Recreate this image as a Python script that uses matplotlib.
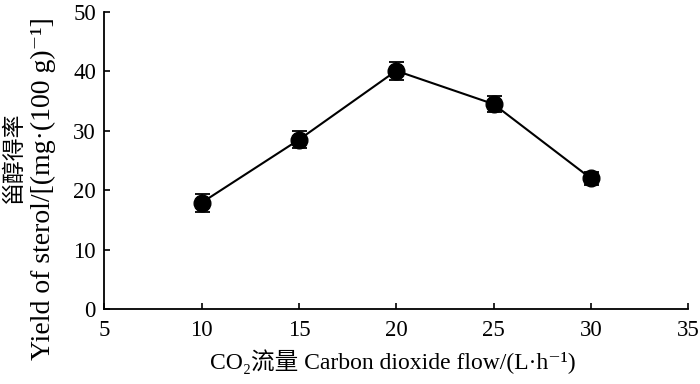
import matplotlib
matplotlib.use("Agg")
import matplotlib.pyplot as plt

# CO2 flow vs sterol yield
flow = [10, 15, 20, 25, 30]
yield_sterol = [17.9, 28.5, 40.1, 34.5, 22.0]
err = [1.5, 1.4, 1.5, 1.4, 1.1]

xticks = [5, 10, 15, 20, 25, 30, 35]
yticks = [0, 10, 20, 30, 40, 50]

plt.rcParams['font.family'] = ['Liberation Serif', 'Noto Sans CJK SC', 'DejaVu Serif']

fig = plt.figure(figsize=(7, 3.84), dpi=100)
ax = fig.add_axes([0.149, 0.195, 0.834, 0.774])

ax.errorbar(flow, yield_sterol, yerr=err, color='black', marker='o', markersize=12,
            linewidth=1.5, elinewidth=1.3, capsize=5.4, capthick=1.3)

ax.set_xlim(5, 35)
ax.set_ylim(0, 50)
ax.set_xticks(xticks)
ax.set_yticks(yticks)
ax.spines['top'].set_visible(False)
ax.spines['right'].set_visible(False)
ax.spines['left'].set_linewidth(1.3)
ax.spines['bottom'].set_linewidth(1.3)
ax.tick_params(direction='in', length=4, width=1.2, labelsize=16.5)
ax.tick_params(axis='y', pad=6)
ax.tick_params(axis='x', pad=8)

# axis titles (two sizes on the y side, so drawn as separate texts)
fig.text(0.561, 0.057, 'CO\u2082流量 Carbon dioxide flow/(L\u00b7h\u207b\u00b9)', fontsize=17,
         ha='center', va='center')
fig.text(0.021, 0.591, '甾醇得率', fontsize=16.5, rotation=90, ha='center', va='center')
fig.text(0.062, 0.508, 'Yield of sterol/[(mg\u00b7(100 g)\u207b\u00b9]', fontsize=20,
         rotation=90, ha='center', va='center')

fig.savefig('out.png', dpi=100)
